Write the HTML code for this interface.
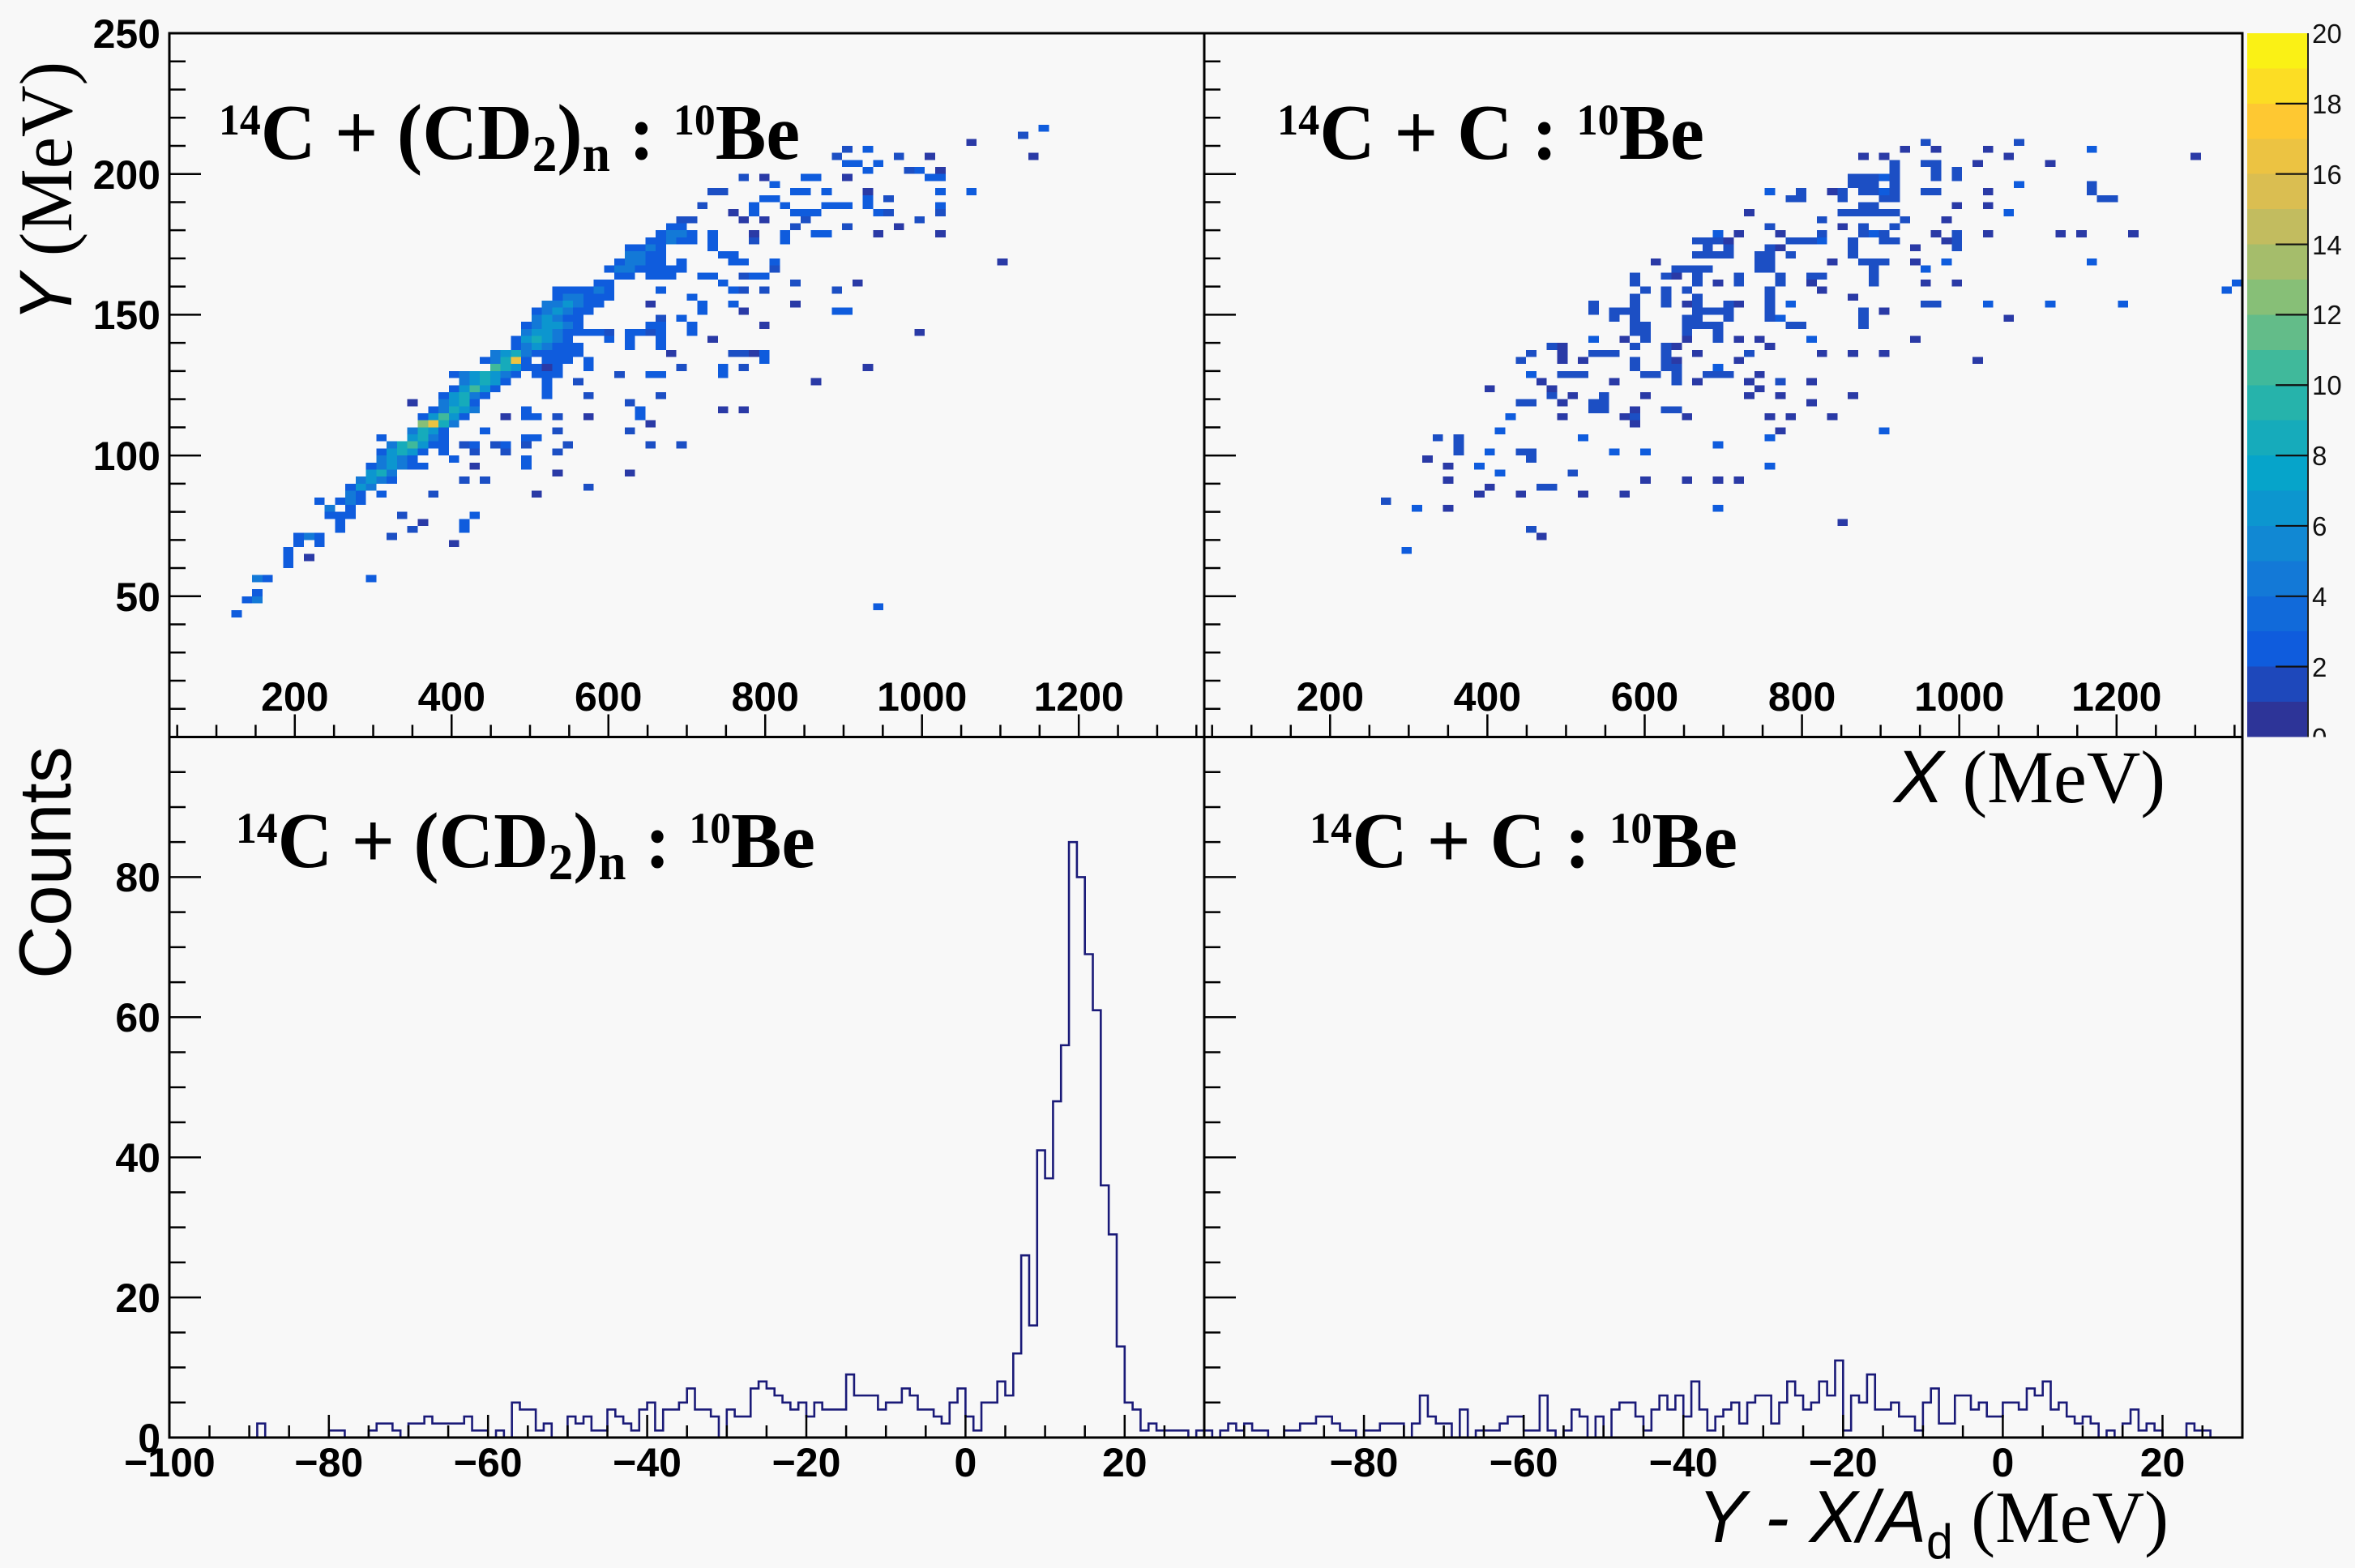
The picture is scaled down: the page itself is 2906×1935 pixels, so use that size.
<!DOCTYPE html>
<html><head><meta charset="utf-8"><style>
html,body{margin:0;padding:0;background:#f8f8f8;overflow:hidden}
svg{display:block}
</style></head><body>
<svg xmlns="http://www.w3.org/2000/svg" width="2906" height="1935" viewBox="0 0 2906 1935">
<defs><clipPath id="cb0"><rect x="2840" y="890" width="66" height="19.5"/></clipPath></defs>
<rect x="0" y="0" width="2906" height="1935" fill="#f8f8f8"/>

<!-- top-left 2D cells -->
<g transform="translate(209,41) scale(12.77,8.685)" shape-rendering="crispEdges">
<path fill="#2a3aa6" d="M83 17h1v1h-1zM77 15h1v1h-1zM73 17h1v1h-1zM74 19h1v1h-1zM65 20h1v1h-1zM57 20h1v1h-1zM67 22h1v1h-1zM54 25h1v1h-1zM57 26h1v1h-1zM55 26h1v1h-1zM70 27h1v1h-1zM56 28h1v1h-1zM68 28h1v1h-1zM74 28h1v1h-1zM80 32h1v1h-1zM66 35h1v1h-1zM46 38h1v1h-1zM60 38h1v1h-1zM55 39h1v1h-1zM57 41h1v1h-1zM72 42h1v1h-1zM52 43h1v1h-1zM48 45h1v1h-1zM56 45h1v1h-1zM36 47h1v1h-1zM67 47h1v1h-1zM62 49h1v1h-1zM23 52h1v1h-1zM53 53h1v1h-1zM55 53h1v1h-1zM32 54h1v1h-1zM40 54h1v1h-1zM46 55h1v1h-1zM29 61h1v1h-1zM37 62h1v1h-1zM44 62h1v1h-1zM35 65h1v1h-1zM24 69h1v1h-1zM27 72h1v1h-1zM13 74h1v1h-1z"/>
<path fill="#1c4fc4" d="M82 14h1v1h-1zM70 17h1v1h-1zM65 16h1v1h-1zM64 17h1v1h-1zM71 19h1v1h-1zM55 20h1v1h-1zM52 22h1v1h-1zM53 22h1v1h-1zM69 23h1v1h-1zM69 25h1v1h-1zM74 25h1v1h-1zM51 24h1v1h-1zM61 26h1v1h-1zM72 26h1v1h-1zM49 26h1v1h-1zM50 26h1v1h-1zM65 27h1v1h-1zM60 27h1v1h-1zM56 29h1v1h-1zM58 33h1v1h-1zM55 34h1v1h-1zM60 35h1v1h-1zM55 36h1v1h-1zM57 36h1v1h-1zM64 36h1v1h-1zM47 40h1v1h-1zM42 42h1v1h-1zM46 42h1v1h-1zM54 45h1v1h-1zM55 45h1v1h-1zM49 47h1v1h-1zM55 47h1v1h-1zM43 48h1v1h-1zM39 49h1v1h-1zM40 51h1v1h-1zM47 51h1v1h-1zM44 52h1v1h-1zM37 54h1v1h-1zM37 56h1v1h-1zM44 56h1v1h-1zM28 58h1v1h-1zM31 58h1v1h-1zM34 58h1v1h-1zM38 58h1v1h-1zM46 58h1v1h-1zM49 58h1v1h-1zM29 59h1v1h-1zM32 59h1v1h-1zM37 59h1v1h-1zM28 63h1v1h-1zM30 63h1v1h-1zM40 64h1v1h-1zM25 65h1v1h-1zM22 68h1v1h-1zM23 70h1v1h-1zM21 71h1v1h-1z"/>
<path fill="#0f5cdd" d="M84 13h1v1h-1zM65 18h1v1h-1zM67 16h1v1h-1zM66 18h1v1h-1zM68 18h1v1h-1zM67 19h1v1h-1zM72 19h1v1h-1zM73 20h1v1h-1zM74 20h1v1h-1zM74 22h1v1h-1zM77 22h1v1h-1zM61 20h1v1h-1zM62 20h1v1h-1zM58 21h1v1h-1zM60 22h1v1h-1zM61 22h1v1h-1zM63 22h1v1h-1zM67 23h1v1h-1zM67 24h1v1h-1zM57 23h1v1h-1zM58 23h1v1h-1zM59 24h1v1h-1zM63 24h1v1h-1zM64 24h1v1h-1zM65 24h1v1h-1zM56 24h1v1h-1zM56 25h1v1h-1zM68 25h1v1h-1zM74 24h1v1h-1zM60 25h1v1h-1zM61 25h1v1h-1zM62 25h1v1h-1zM62 28h1v1h-1zM63 28h1v1h-1zM48 27h1v1h-1zM49 27h1v1h-1zM47 28h1v1h-1zM50 28h1v1h-1zM47 29h1v1h-1zM49 29h1v1h-1zM50 29h1v1h-1zM46 29h1v1h-1zM59 28h1v1h-1zM59 29h1v1h-1zM52 28h1v1h-1zM52 29h1v1h-1zM52 30h1v1h-1zM53 31h1v1h-1zM54 31h1v1h-1zM44 30h1v1h-1zM45 30h1v1h-1zM47 30h1v1h-1zM46 31h1v1h-1zM47 31h1v1h-1zM49 32h1v1h-1zM49 33h1v1h-1zM54 32h1v1h-1zM55 32h1v1h-1zM58 32h1v1h-1zM43 32h1v1h-1zM46 32h1v1h-1zM47 32h1v1h-1zM42 33h1v1h-1zM45 33h1v1h-1zM46 33h1v1h-1zM47 33h1v1h-1zM48 33h1v1h-1zM48 34h1v1h-1zM43 34h1v1h-1zM44 34h1v1h-1zM46 34h1v1h-1zM47 34h1v1h-1zM51 34h1v1h-1zM52 34h1v1h-1zM53 35h1v1h-1zM56 34h1v1h-1zM57 34h1v1h-1zM41 35h1v1h-1zM42 35h1v1h-1zM40 36h1v1h-1zM42 36h1v1h-1zM47 36h1v1h-1zM54 36h1v1h-1zM37 36h1v1h-1zM38 36h1v1h-1zM39 36h1v1h-1zM37 37h1v1h-1zM40 37h1v1h-1zM41 37h1v1h-1zM42 37h1v1h-1zM50 37h1v1h-1zM51 38h1v1h-1zM54 38h1v1h-1zM40 38h1v1h-1zM41 38h1v1h-1zM51 39h1v1h-1zM64 39h1v1h-1zM65 39h1v1h-1zM35 39h1v1h-1zM39 39h1v1h-1zM40 39h1v1h-1zM49 40h1v1h-1zM38 40h1v1h-1zM39 40h1v1h-1zM46 41h1v1h-1zM47 41h1v1h-1zM50 41h1v1h-1zM50 42h1v1h-1zM40 42h1v1h-1zM41 42h1v1h-1zM44 42h1v1h-1zM45 42h1v1h-1zM47 42h1v1h-1zM34 41h1v1h-1zM39 41h1v1h-1zM38 42h1v1h-1zM39 42h1v1h-1zM42 43h1v1h-1zM44 43h1v1h-1zM44 44h1v1h-1zM47 43h1v1h-1zM47 44h1v1h-1zM33 43h1v1h-1zM38 43h1v1h-1zM33 44h1v1h-1zM37 44h1v1h-1zM38 44h1v1h-1zM39 44h1v1h-1zM39 45h1v1h-1zM35 45h1v1h-1zM36 45h1v1h-1zM37 45h1v1h-1zM38 45h1v1h-1zM57 45h1v1h-1zM57 46h1v1h-1zM30 46h1v1h-1zM34 46h1v1h-1zM36 46h1v1h-1zM37 46h1v1h-1zM38 46h1v1h-1zM34 47h1v1h-1zM35 47h1v1h-1zM37 47h1v1h-1zM40 46h1v1h-1zM40 47h1v1h-1zM53 47h1v1h-1zM53 48h1v1h-1zM27 48h1v1h-1zM33 48h1v1h-1zM35 48h1v1h-1zM36 48h1v1h-1zM37 48h1v1h-1zM46 48h1v1h-1zM47 48h1v1h-1zM36 49h1v1h-1zM36 50h1v1h-1zM36 51h1v1h-1zM32 49h1v1h-1zM27 50h1v1h-1zM31 50h1v1h-1zM26 51h1v1h-1zM30 51h1v1h-1zM29 52h1v1h-1zM25 53h1v1h-1zM34 53h1v1h-1zM34 54h1v1h-1zM45 53h1v1h-1zM45 54h1v1h-1zM24 54h1v1h-1zM28 54h1v1h-1zM35 54h1v1h-1zM26 56h1v1h-1zM30 56h1v1h-1zM20 57h1v1h-1zM26 57h1v1h-1zM34 57h1v1h-1zM35 57h1v1h-1zM25 58h1v1h-1zM26 58h1v1h-1zM29 58h1v1h-1zM32 58h1v1h-1zM20 59h1v1h-1zM24 59h1v1h-1zM26 59h1v1h-1zM23 60h1v1h-1zM27 60h1v1h-1zM34 60h1v1h-1zM34 61h1v1h-1zM19 61h1v1h-1zM23 61h1v1h-1zM24 61h1v1h-1zM21 63h1v1h-1zM17 64h1v1h-1zM18 65h1v1h-1zM20 65h1v1h-1zM14 66h1v1h-1zM16 66h1v1h-1zM18 66h1v1h-1zM17 67h1v1h-1zM15 68h1v1h-1zM16 68h1v1h-1zM17 68h1v1h-1zM29 68h1v1h-1zM16 69h1v1h-1zM16 70h1v1h-1zM28 69h1v1h-1zM28 70h1v1h-1zM12 71h1v1h-1zM14 71h1v1h-1zM12 72h1v1h-1zM14 72h1v1h-1zM11 73h1v1h-1zM11 74h1v1h-1zM11 75h1v1h-1zM9 77h1v1h-1zM19 77h1v1h-1zM8 79h1v1h-1zM7 80h1v1h-1zM6 82h1v1h-1zM68 81h1v1h-1z"/>
<path fill="#1379d7" d="M48 28h1v1h-1zM49 28h1v1h-1zM48 29h1v1h-1zM46 30h1v1h-1zM44 31h1v1h-1zM45 31h1v1h-1zM44 32h1v1h-1zM45 32h1v1h-1zM43 33h1v1h-1zM44 33h1v1h-1zM41 36h1v1h-1zM38 37h1v1h-1zM39 37h1v1h-1zM36 38h1v1h-1zM37 38h1v1h-1zM39 38h1v1h-1zM36 39h1v1h-1zM38 39h1v1h-1zM35 40h1v1h-1zM37 40h1v1h-1zM35 41h1v1h-1zM38 41h1v1h-1zM34 42h1v1h-1zM37 42h1v1h-1zM37 43h1v1h-1zM34 44h1v1h-1zM36 44h1v1h-1zM31 45h1v1h-1zM34 45h1v1h-1zM31 46h1v1h-1zM31 47h1v1h-1zM28 48h1v1h-1zM32 48h1v1h-1zM28 49h1v1h-1zM29 51h1v1h-1zM26 52h1v1h-1zM26 53h1v1h-1zM29 53h1v1h-1zM27 55h1v1h-1zM23 56h1v1h-1zM25 57h1v1h-1zM21 58h1v1h-1zM20 60h1v1h-1zM22 60h1v1h-1zM20 61h1v1h-1zM22 61h1v1h-1zM21 62h1v1h-1zM18 63h1v1h-1zM20 63h1v1h-1zM19 64h1v1h-1zM17 65h1v1h-1zM17 66h1v1h-1zM15 67h1v1h-1zM13 71h1v1h-1zM8 77h1v1h-1zM8 80h1v1h-1z"/>
<path fill="#0c96cf" d="M38 38h1v1h-1zM37 39h1v1h-1zM36 40h1v1h-1zM36 41h1v1h-1zM37 41h1v1h-1zM35 42h1v1h-1zM36 42h1v1h-1zM34 43h1v1h-1zM36 43h1v1h-1zM35 44h1v1h-1zM32 45h1v1h-1zM33 47h1v1h-1zM29 48h1v1h-1zM31 48h1v1h-1zM29 49h1v1h-1zM31 49h1v1h-1zM28 50h1v1h-1zM30 50h1v1h-1zM27 51h1v1h-1zM27 52h1v1h-1zM28 53h1v1h-1zM25 54h1v1h-1zM27 54h1v1h-1zM25 56h1v1h-1zM23 57h1v1h-1zM24 58h1v1h-1zM21 59h1v1h-1zM23 59h1v1h-1zM21 60h1v1h-1zM21 61h1v1h-1zM19 62h1v1h-1zM19 63h1v1h-1zM18 64h1v1h-1z"/>
<path fill="#16abbb" d="M35 43h1v1h-1zM33 45h1v1h-1zM32 46h1v1h-1zM32 47h1v1h-1zM30 48h1v1h-1zM30 49h1v1h-1zM28 51h1v1h-1zM28 52h1v1h-1zM27 53h1v1h-1zM26 55h1v1h-1zM24 56h1v1h-1zM24 57h1v1h-1zM22 58h1v1h-1zM22 59h1v1h-1zM20 62h1v1h-1z"/>
<path fill="#40b99b" d="M29 50h1v1h-1zM26 54h1v1h-1zM23 58h1v1h-1zM31 47h1v1h-1z"/>
<path fill="#87bf77" d="M24 55h1v1h-1z"/>
<path fill="#ecc342" d="M33 46h1v1h-1zM25 55h1v1h-1z"/>
</g>

<!-- top-right 2D cells -->
<g transform="translate(1486,41) scale(12.81,8.685)" shape-rendering="crispEdges">
<path fill="#2a3aa6" d="M70 16h1v1h-1zM67 16h1v1h-1zM75 16h1v1h-1zM77 17h1v1h-1zM95 17h1v1h-1zM63 17h1v1h-1zM65 17h1v1h-1zM74 18h1v1h-1zM81 18h1v1h-1zM60 22h1v1h-1zM75 22h1v1h-1zM72 24h1v1h-1zM75 24h1v1h-1zM52 25h1v1h-1zM71 26h1v1h-1zM61 27h1v1h-1zM51 28h1v1h-1zM55 28h1v1h-1zM70 28h1v1h-1zM75 28h1v1h-1zM82 28h1v1h-1zM84 28h1v1h-1zM89 28h1v1h-1zM50 29h1v1h-1zM71 29h1v1h-1zM55 30h1v1h-1zM68 30h1v1h-1zM43 32h1v1h-1zM60 32h1v1h-1zM68 32h1v1h-1zM45 34h1v1h-1zM49 35h1v1h-1zM58 35h1v1h-1zM69 35h1v1h-1zM72 35h1v1h-1zM59 36h1v1h-1zM62 37h1v1h-1zM46 38h1v1h-1zM51 38h1v1h-1zM65 39h1v1h-1zM77 40h1v1h-1zM40 43h1v1h-1zM46 43h1v1h-1zM51 43h1v1h-1zM53 43h1v1h-1zM68 43h1v1h-1zM34 44h1v1h-1zM45 44h1v1h-1zM54 44h1v1h-1zM34 45h1v1h-1zM47 45h1v1h-1zM59 45h1v1h-1zM62 45h1v1h-1zM65 45h1v1h-1zM34 46h1v1h-1zM36 46h1v1h-1zM45 46h1v1h-1zM51 46h1v1h-1zM74 46h1v1h-1zM53 48h1v1h-1zM32 49h1v1h-1zM39 49h1v1h-1zM47 49h1v1h-1zM52 49h1v1h-1zM58 49h1v1h-1zM27 50h1v1h-1zM33 50h1v1h-1zM53 50h1v1h-1zM35 51h1v1h-1zM42 51h1v1h-1zM52 51h1v1h-1zM55 51h1v1h-1zM62 51h1v1h-1zM34 52h1v1h-1zM58 52h1v1h-1zM41 53h1v1h-1zM34 54h1v1h-1zM40 54h1v1h-1zM46 54h1v1h-1zM54 54h1v1h-1zM56 54h1v1h-1zM60 54h1v1h-1zM41 55h1v1h-1zM55 56h1v1h-1zM21 60h1v1h-1zM23 61h1v1h-1zM23 63h1v1h-1zM42 63h1v1h-1zM46 63h1v1h-1zM49 63h1v1h-1zM51 63h1v1h-1zM27 64h1v1h-1zM26 65h1v1h-1zM30 65h1v1h-1zM36 65h1v1h-1zM40 65h1v1h-1zM23 67h1v1h-1zM61 69h1v1h-1zM32 71h1v1h-1z"/>
<path fill="#1c4fc4" d="M69 15h1v1h-1zM78 15h1v1h-1zM66 18h1v1h-1zM66 19h1v1h-1zM69 18h1v1h-1zM70 18h1v1h-1zM70 19h1v1h-1zM70 20h1v1h-1zM70 22h1v1h-1zM69 22h1v1h-1zM72 19h1v1h-1zM72 20h1v1h-1zM62 20h1v1h-1zM63 20h1v1h-1zM64 20h1v1h-1zM66 20h1v1h-1zM62 21h1v1h-1zM63 21h1v1h-1zM64 21h1v1h-1zM66 21h1v1h-1zM85 21h1v1h-1zM85 22h1v1h-1zM57 22h1v1h-1zM57 23h1v1h-1zM61 22h1v1h-1zM63 22h1v1h-1zM64 22h1v1h-1zM66 22h1v1h-1zM56 23h1v1h-1zM61 23h1v1h-1zM65 23h1v1h-1zM66 23h1v1h-1zM86 23h1v1h-1zM87 23h1v1h-1zM63 24h1v1h-1zM64 24h1v1h-1zM61 25h1v1h-1zM62 25h1v1h-1zM63 25h1v1h-1zM64 25h1v1h-1zM65 25h1v1h-1zM66 25h1v1h-1zM59 26h1v1h-1zM67 26h1v1h-1zM54 27h1v1h-1zM63 27h1v1h-1zM63 28h1v1h-1zM66 27h1v1h-1zM59 28h1v1h-1zM65 28h1v1h-1zM72 28h1v1h-1zM72 29h1v1h-1zM47 29h1v1h-1zM48 29h1v1h-1zM49 29h1v1h-1zM56 29h1v1h-1zM57 29h1v1h-1zM58 29h1v1h-1zM62 29h1v1h-1zM62 30h1v1h-1zM65 29h1v1h-1zM66 29h1v1h-1zM48 30h1v1h-1zM50 30h1v1h-1zM54 30h1v1h-1zM72 30h1v1h-1zM47 31h1v1h-1zM48 31h1v1h-1zM49 31h1v1h-1zM50 31h1v1h-1zM53 31h1v1h-1zM54 31h1v1h-1zM56 31h1v1h-1zM62 31h1v1h-1zM53 32h1v1h-1zM54 32h1v1h-1zM63 32h1v1h-1zM64 32h1v1h-1zM65 32h1v1h-1zM45 33h1v1h-1zM46 33h1v1h-1zM47 33h1v1h-1zM48 33h1v1h-1zM53 33h1v1h-1zM54 33h1v1h-1zM64 33h1v1h-1zM64 34h1v1h-1zM64 35h1v1h-1zM44 34h1v1h-1zM47 34h1v1h-1zM51 34h1v1h-1zM55 34h1v1h-1zM58 34h1v1h-1zM59 34h1v1h-1zM41 34h1v1h-1zM41 35h1v1h-1zM47 35h1v1h-1zM51 35h1v1h-1zM55 35h1v1h-1zM42 36h1v1h-1zM44 36h1v1h-1zM46 36h1v1h-1zM54 36h1v1h-1zM41 37h1v1h-1zM44 37h1v1h-1zM47 37h1v1h-1zM54 37h1v1h-1zM37 38h1v1h-1zM37 39h1v1h-1zM41 38h1v1h-1zM44 38h1v1h-1zM47 38h1v1h-1zM50 38h1v1h-1zM54 38h1v1h-1zM69 38h1v1h-1zM70 38h1v1h-1zM39 39h1v1h-1zM40 39h1v1h-1zM41 39h1v1h-1zM47 39h1v1h-1zM48 39h1v1h-1zM49 39h1v1h-1zM50 39h1v1h-1zM54 39h1v1h-1zM63 39h1v1h-1zM39 40h1v1h-1zM41 40h1v1h-1zM46 40h1v1h-1zM47 40h1v1h-1zM50 40h1v1h-1zM54 40h1v1h-1zM63 40h1v1h-1zM63 41h1v1h-1zM41 41h1v1h-1zM42 41h1v1h-1zM46 41h1v1h-1zM47 41h1v1h-1zM48 41h1v1h-1zM49 41h1v1h-1zM56 41h1v1h-1zM57 41h1v1h-1zM41 42h1v1h-1zM42 42h1v1h-1zM46 42h1v1h-1zM49 42h1v1h-1zM42 43h1v1h-1zM49 43h1v1h-1zM33 44h1v1h-1zM41 44h1v1h-1zM44 44h1v1h-1zM31 45h1v1h-1zM37 45h1v1h-1zM38 45h1v1h-1zM39 45h1v1h-1zM44 45h1v1h-1zM52 45h1v1h-1zM30 46h1v1h-1zM41 46h1v1h-1zM44 46h1v1h-1zM41 47h1v1h-1zM44 47h1v1h-1zM45 47h1v1h-1zM34 48h1v1h-1zM35 48h1v1h-1zM36 48h1v1h-1zM42 48h1v1h-1zM43 48h1v1h-1zM45 48h1v1h-1zM48 48h1v1h-1zM49 48h1v1h-1zM50 48h1v1h-1zM45 49h1v1h-1zM55 49h1v1h-1zM33 51h1v1h-1zM38 51h1v1h-1zM30 52h1v1h-1zM31 52h1v1h-1zM37 52h1v1h-1zM38 52h1v1h-1zM37 53h1v1h-1zM38 53h1v1h-1zM44 53h1v1h-1zM45 53h1v1h-1zM41 54h1v1h-1zM22 57h1v1h-1zM24 57h1v1h-1zM24 58h1v1h-1zM24 59h1v1h-1zM30 59h1v1h-1zM31 59h1v1h-1zM31 60h1v1h-1zM35 62h1v1h-1zM32 64h1v1h-1zM33 64h1v1h-1zM17 66h1v1h-1zM31 70h1v1h-1z"/>
<path fill="#0f5cdd" d="M85 16h1v1h-1zM65 20h1v1h-1zM78 21h1v1h-1zM54 22h1v1h-1zM65 22h1v1h-1zM77 25h1v1h-1zM49 28h1v1h-1zM59 29h1v1h-1zM64 28h1v1h-1zM71 32h1v1h-1zM85 32h1v1h-1zM69 33h1v1h-1zM98 36h1v1h-1zM99 35h1v1h-1zM56 38h1v1h-1zM75 38h1v1h-1zM81 38h1v1h-1zM88 38h1v1h-1zM55 40h1v1h-1zM37 43h1v1h-1zM58 43h1v1h-1zM49 47h1v1h-1zM31 48h1v1h-1zM29 54h1v1h-1zM28 56h1v1h-1zM65 56h1v1h-1zM36 57h1v1h-1zM54 57h1v1h-1zM49 58h1v1h-1zM27 59h1v1h-1zM39 59h1v1h-1zM42 59h1v1h-1zM26 61h1v1h-1zM54 61h1v1h-1zM28 62h1v1h-1zM20 67h1v1h-1zM49 67h1v1h-1zM19 73h1v1h-1z"/>
</g>

<!-- histograms -->
<path transform="translate(209.4,1774) scale(9.82,-8.645)" vector-effect="non-scaling-stroke" fill="none" stroke="#1a1a78" stroke-width="2.6" d="M0 0H11V2H12V0H20V1H22V0H25V1H26V2H28V1H29V0H30V2H32V3H33V2H37V3H38V1H40V0H41V1H42V0H43V5H44V4H46V1H47V2H48V0H50V3H51V2H52V3H53V1H55V4H56V3H57V2H58V1H59V4H60V5H61V1H62V4H64V5H65V7H66V4H68V3H69V0H70V4H71V3H73V7H74V8H75V7H76V6H77V5H78V4H79V5H80V3H81V5H82V4H85V9H86V6H89V4H90V5H92V7H93V6H94V4H96V3H97V2H98V5H99V7H100V3H101V1H102V5H104V8H105V6H106V12H107V26H108V16H109V41H110V37H111V48H112V56H113V85H114V80H115V69H116V61H117V36H118V29H119V13H120V5H121V4H122V1H123V2H124V1H128V0H129V1H130V0"/>
<path transform="translate(1486,1774) scale(9.854,-8.645)" vector-effect="non-scaling-stroke" fill="none" stroke="#1a1a78" stroke-width="2.6" d="M0 0V1H1V0H2V1H3V2H4V1H5V2H6V1H8V0H10V1H12V2H14V3H16V2H17V1H19V0H20V1H22V2H25V0H26V2H27V6H28V3H29V2H31V0H32V4H33V0H34V1H37V2H38V3H40V1H42V6H43V1H44V0H45V1H46V4H47V3H48V0H49V3H50V0H51V4H52V5H54V3H55V1H56V4H57V6H58V4H59V6H60V3H61V8H62V4H63V1H64V3H65V4H66V5H67V2H68V5H69V6H71V2H72V5H73V8H74V6H75V4H76V5H77V8H78V6H79V11H80V1H81V6H82V5H83V9H84V4H86V5H87V3H89V1H90V5H91V7H92V2H94V6H96V4H97V5H98V3H100V5H102V4H103V7H104V6H105V8H106V4H107V5H108V3H109V2H110V3H111V2H112V0H113V1H114V0H115V2H116V4H117V1H118V2H119V1H120V0H123V2H124V1H126V0H130"/>

<!-- colorbar -->
<g transform="translate(2773,909.5) scale(75,-43.425)" shape-rendering="crispEdges">
<rect x="0" y="0" width="1" height="1.02" fill="#2d3498"/>
<rect x="0" y="1" width="1" height="1.02" fill="#1e48bb"/>
<rect x="0" y="2" width="1" height="1.02" fill="#0f5cdd"/>
<rect x="0" y="3" width="1" height="1.02" fill="#116ada"/>
<rect x="0" y="4" width="1" height="1.02" fill="#1379d7"/>
<rect x="0" y="5" width="1" height="1.02" fill="#1188d3"/>
<rect x="0" y="6" width="1" height="1.02" fill="#0c96cf"/>
<rect x="0" y="7" width="1" height="1.02" fill="#06a4ca"/>
<rect x="0" y="8" width="1" height="1.02" fill="#16abbb"/>
<rect x="0" y="9" width="1" height="1.02" fill="#26b3ab"/>
<rect x="0" y="10" width="1" height="1.02" fill="#40b99b"/>
<rect x="0" y="11" width="1" height="1.02" fill="#63bc89"/>
<rect x="0" y="12" width="1" height="1.02" fill="#87bf77"/>
<rect x="0" y="13" width="1" height="1.02" fill="#a5bd6b"/>
<rect x="0" y="14" width="1" height="1.02" fill="#c2bc5f"/>
<rect x="0" y="15" width="1" height="1.02" fill="#dabe51"/>
<rect x="0" y="16" width="1" height="1.02" fill="#ecc342"/>
<rect x="0" y="17" width="1" height="1.02" fill="#fec832"/>
<rect x="0" y="18" width="1" height="1.02" fill="#fcdd24"/>
<rect x="0" y="19" width="1" height="1" fill="#faf115"/>
</g>
<line x1="2848" y1="41" x2="2848" y2="909.5" stroke="#222" stroke-width="2"/>
<path stroke="#111" stroke-width="2.2" fill="none" d="M2808 822.65H2848M2808 735.8H2848M2808 648.95H2848M2808 562.1H2848M2808 475.25H2848M2808 388.4H2848M2808 301.55H2848M2808 214.7H2848M2808 127.85H2848"/>
<g font-family="Liberation Sans, sans-serif" font-size="33" fill="#111">
<text x="2853" y="53">20</text>
<text x="2853" y="140">18</text>
<text x="2853" y="227">16</text>
<text x="2853" y="314">14</text>
<text x="2853" y="400">12</text>
<text x="2853" y="487">10</text>
<text x="2853" y="574">8</text>
<text x="2853" y="661">6</text>
<text x="2853" y="748">4</text>
<text x="2853" y="835">2</text>
<text x="2853" y="922" clip-path="url(#cb0)">0</text>
</g>

<!-- frames -->
<g fill="none" stroke="#000" stroke-width="3">
<rect x="209" y="41" width="1277" height="868.5"/>
<rect x="1486" y="41" width="1281" height="868.5"/>
<rect x="209" y="909.5" width="1277" height="864.5"/>
<rect x="1486" y="909.5" width="1281" height="864.5"/>
</g>

<!-- ticks -->
<g fill="none" stroke="#000" stroke-width="2.5">
<path transform="translate(209,909.5) scale(1,-3.474)" vector-effect="non-scaling-stroke" d="M0 10h20M0 20h20M0 30h20M0 40h20M0 50h39M0 60h20M0 70h20M0 80h20M0 90h20M0 100h39M0 110h20M0 120h20M0 130h20M0 140h20M0 150h39M0 160h20M0 170h20M0 180h20M0 190h20M0 200h39M0 210h20M0 220h20M0 230h20M0 240h20"/>
<path transform="translate(1486,909.5) scale(1,-3.474)" vector-effect="non-scaling-stroke" d="M0 10h20M0 20h20M0 30h20M0 40h20M0 50h39M0 60h20M0 70h20M0 80h20M0 90h20M0 100h39M0 110h20M0 120h20M0 130h20M0 140h20M0 150h39M0 160h20M0 170h20M0 180h20M0 190h20M0 200h39M0 210h20M0 220h20M0 230h20M0 240h20"/>
<path transform="translate(209,909.5) scale(0.9674,1)" vector-effect="non-scaling-stroke" d="M10 0v-15M60 0v-15M110 0v-15M160 0v-28M210 0v-15M260 0v-15M310 0v-15M360 0v-28M410 0v-15M460 0v-15M510 0v-15M560 0v-28M610 0v-15M660 0v-15M710 0v-15M760 0v-28M810 0v-15M860 0v-15M910 0v-15M960 0v-28M1010 0v-15M1060 0v-15M1110 0v-15M1160 0v-28M1210 0v-15M1260 0v-15M1310 0v-15"/>
<path transform="translate(1486,909.5) scale(0.9705,1)" vector-effect="non-scaling-stroke" d="M10 0v-15M60 0v-15M110 0v-15M160 0v-28M210 0v-15M260 0v-15M310 0v-15M360 0v-28M410 0v-15M460 0v-15M510 0v-15M560 0v-28M610 0v-15M660 0v-15M710 0v-15M760 0v-28M810 0v-15M860 0v-15M910 0v-15M960 0v-28M1010 0v-15M1060 0v-15M1110 0v-15M1160 0v-28M1210 0v-15M1260 0v-15M1310 0v-15"/>
<path transform="translate(209,1774) scale(1,-8.645)" vector-effect="non-scaling-stroke" d="M0 5h20M0 10h20M0 15h20M0 20h39M0 25h20M0 30h20M0 35h20M0 40h39M0 45h20M0 50h20M0 55h20M0 60h39M0 65h20M0 70h20M0 75h20M0 80h39M0 85h20M0 90h20M0 95h20"/>
<path transform="translate(1486,1774) scale(1,-8.645)" vector-effect="non-scaling-stroke" d="M0 5h20M0 10h20M0 15h20M0 20h39M0 25h20M0 30h20M0 35h20M0 40h39M0 45h20M0 50h20M0 55h20M0 60h39M0 65h20M0 70h20M0 75h20M0 80h39M0 85h20M0 90h20M0 95h20"/>
<path transform="translate(209.4,1774) scale(9.82,1)" vector-effect="non-scaling-stroke" d="M5 0v-15M10 0v-15M15 0v-15M20 0v-28M25 0v-15M30 0v-15M35 0v-15M40 0v-28M45 0v-15M50 0v-15M55 0v-15M60 0v-28M65 0v-15M70 0v-15M75 0v-15M80 0v-28M85 0v-15M90 0v-15M95 0v-15M100 0v-28M105 0v-15M110 0v-15M115 0v-15M120 0v-28M125 0v-15"/>
<path transform="translate(1486,1774) scale(9.854,1)" vector-effect="non-scaling-stroke" d="M5 0v-15M10 0v-15M15 0v-15M20 0v-28M25 0v-15M30 0v-15M35 0v-15M40 0v-28M45 0v-15M50 0v-15M55 0v-15M60 0v-28M65 0v-15M70 0v-15M75 0v-15M80 0v-28M85 0v-15M90 0v-15M95 0v-15M100 0v-28M105 0v-15M110 0v-15M115 0v-15M120 0v-28M125 0v-15"/>
</g>

<!-- tick labels -->
<g font-family="Liberation Sans, sans-serif" font-weight="bold" font-size="50" fill="#000">
<g text-anchor="end">
<text x="198" y="59">250</text>
<text x="198" y="233">200</text>
<text x="198" y="406">150</text>
<text x="198" y="580">100</text>
<text x="198" y="754">50</text>
<text x="198" y="1792">0</text>
<text x="198" y="1619">20</text>
<text x="198" y="1446">40</text>
<text x="198" y="1273">60</text>
<text x="198" y="1100">80</text>
</g>
<g text-anchor="middle">
<text x="363.8" y="877">200</text>
<text x="557.3" y="877">400</text>
<text x="750.7" y="877">600</text>
<text x="944.2" y="877">800</text>
<text x="1137.7" y="877">1000</text>
<text x="1331.2" y="877">1200</text>
<text x="1641.3" y="877">200</text>
<text x="1835.4" y="877">400</text>
<text x="2029.5" y="877">600</text>
<text x="2223.6" y="877">800</text>
<text x="2417.7" y="877">1000</text>
<text x="2611.8" y="877">1200</text>
<text x="209.4" y="1822">−100</text>
<text x="405.8" y="1822">−80</text>
<text x="602.2" y="1822">−60</text>
<text x="798.6" y="1822">−40</text>
<text x="995" y="1822">−20</text>
<text x="1191.4" y="1822">0</text>
<text x="1387.8" y="1822">20</text>
<text x="1683.1" y="1822">−80</text>
<text x="1880.2" y="1822">−60</text>
<text x="2077.2" y="1822">−40</text>
<text x="2274.3" y="1822">−20</text>
<text x="2471.4" y="1822">0</text>
<text x="2668.5" y="1822">20</text>
</g>
</g>

<!-- panel labels -->
<g font-family="Liberation Serif, serif" font-weight="bold" font-size="98" fill="#000">
<text x="270" y="196" textLength="717" lengthAdjust="spacingAndGlyphs"><tspan font-size="54" dy="-30">14</tspan><tspan dy="30">C + (CD</tspan><tspan font-size="64" dy="15">2</tspan><tspan dy="-15">)</tspan><tspan font-size="64" dy="15">n</tspan><tspan dy="-15"> : </tspan><tspan font-size="54" dy="-30">10</tspan><tspan dy="30">Be</tspan></text>
<text x="1576" y="196" textLength="527" lengthAdjust="spacingAndGlyphs"><tspan font-size="54" dy="-30">14</tspan><tspan dy="30">C + C : </tspan><tspan font-size="54" dy="-30">10</tspan><tspan dy="30">Be</tspan></text>
<text x="291" y="1070" textLength="715" lengthAdjust="spacingAndGlyphs"><tspan font-size="54" dy="-30">14</tspan><tspan dy="30">C + (CD</tspan><tspan font-size="64" dy="15">2</tspan><tspan dy="-15">)</tspan><tspan font-size="64" dy="15">n</tspan><tspan dy="-15"> : </tspan><tspan font-size="54" dy="-30">10</tspan><tspan dy="30">Be</tspan></text>
<text x="1616" y="1070" textLength="528" lengthAdjust="spacingAndGlyphs"><tspan font-size="54" dy="-30">14</tspan><tspan dy="30">C + C : </tspan><tspan font-size="54" dy="-30">10</tspan><tspan dy="30">Be</tspan></text>
</g>

<!-- axis titles -->
<text transform="translate(88,397) rotate(-90)" font-size="92" fill="#000" textLength="321" lengthAdjust="spacingAndGlyphs"><tspan font-family="Liberation Sans, sans-serif" font-style="italic">Y</tspan><tspan font-family="Liberation Serif, serif"> (MeV)</tspan></text>
<text transform="translate(87,1208) rotate(-90)" font-family="Liberation Sans, sans-serif" font-size="91" fill="#000" textLength="287" lengthAdjust="spacingAndGlyphs">Counts</text>
<text x="2337" y="990" font-size="92" fill="#000" textLength="335" lengthAdjust="spacingAndGlyphs"><tspan font-family="Liberation Sans, sans-serif" font-style="italic">X</tspan><tspan font-family="Liberation Serif, serif"> (MeV)</tspan></text>
<text x="2095" y="1903" font-size="91" fill="#000" textLength="581" lengthAdjust="spacingAndGlyphs"><tspan font-family="Liberation Sans, sans-serif" font-style="italic">Y - X/A</tspan><tspan font-family="Liberation Sans, sans-serif" font-size="60" dy="20">d</tspan><tspan font-family="Liberation Serif, serif" dy="-20"> (MeV)</tspan></text>
</svg>
</body></html>
